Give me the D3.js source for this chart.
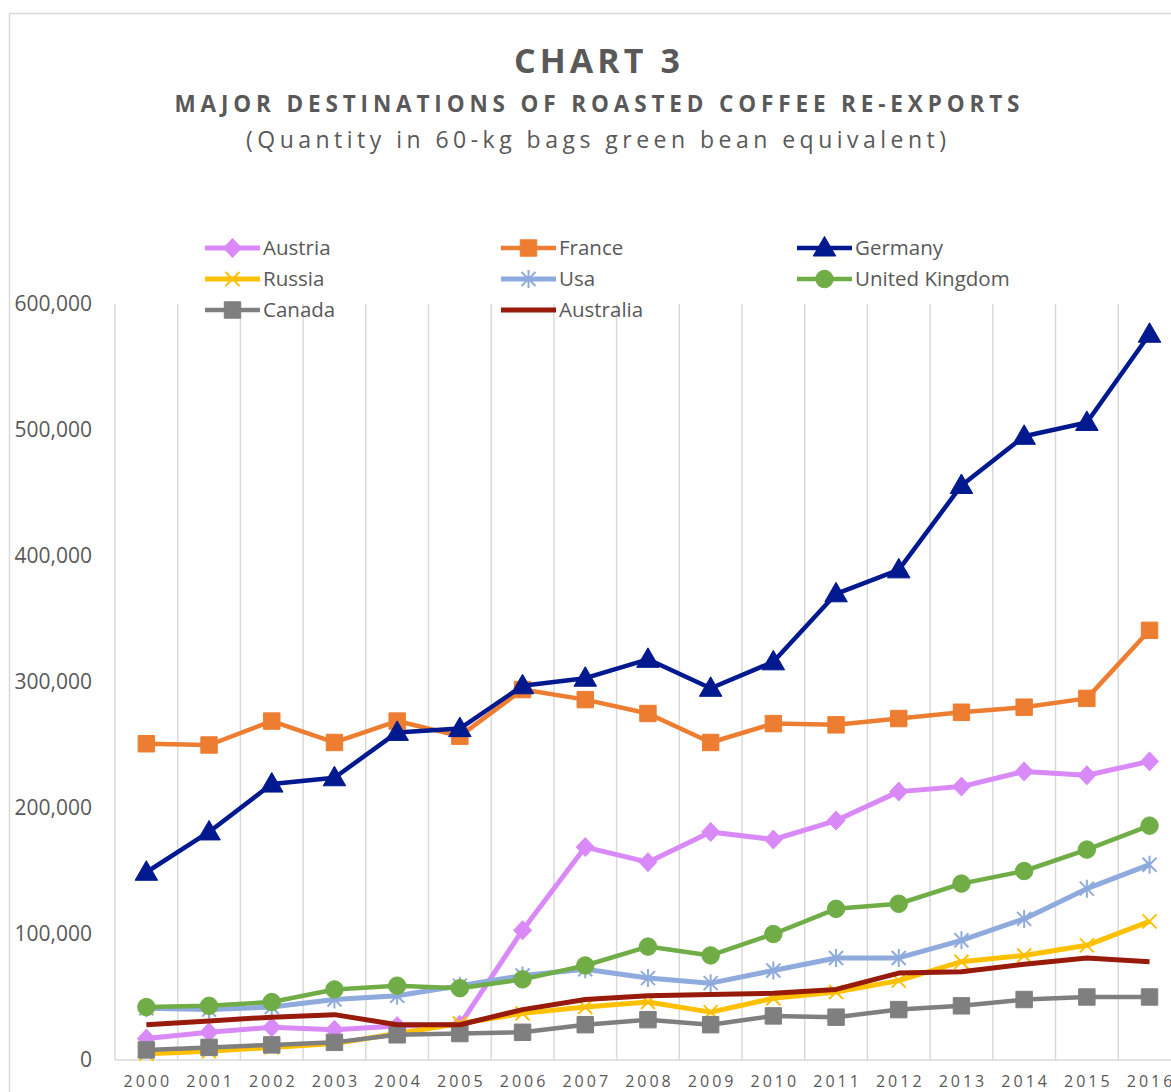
<!DOCTYPE html>
<html><head><meta charset="utf-8">
<script src="https://cdn.jsdelivr.net/npm/d3@7"></script>
<style>body{margin:0;background:#fff}svg{display:block}text{font-family:"Open Sans",sans-serif;fill:#595959}</style>
</head><body><svg id="c" width="1171" height="1092"></svg>
<script>
const years = ["2000","2001","2002","2003","2004","2005","2006","2007","2008","2009","2010","2011","2012","2013","2014","2015","2016"];
const yTicks = [0,100000,200000,300000,400000,500000,600000];
const austria   = [17000,22000,26000,24000,27000,28000,103000,169000,157000,181000,175000,190000,213000,217000,229000,226000,237000];
const france    = [251000,250000,269000,252000,269000,257000,294000,286000,275000,252000,267000,266000,271000,276000,280000,287000,341000];
const germany   = [149000,181000,219000,224000,260000,263000,297000,303000,318000,295000,316000,370000,389000,456000,495000,506000,576000];
const russia    = [5000,7000,10000,13000,21000,29000,37000,42000,46000,38000,49000,54000,63000,78000,83000,91000,110000];
const usa       = [41000,40000,42000,48000,51000,59000,67000,72000,65000,61000,71000,81000,81000,95000,112000,136000,155000];
const uk        = [42000,43000,46000,56000,59000,57000,64000,75000,90000,83000,100000,120000,124000,140000,150000,167000,186000];
const canada    = [8000,10000,12000,14000,20000,21000,22000,28000,32000,28000,35000,34000,40000,43000,48000,50000,50000];
const australia = [28000,31000,34000,36000,28000,28000,40000,48000,51000,52000,53000,56000,69000,70000,76000,81000,78000];

const series = [
  {name:"Austria", values:austria, color:"#D98AF8", marker:"diamond", w:5},
  {name:"France", values:france, color:"#ED7D31", marker:"square", w:4.5},
  {name:"Germany", values:germany, color:"#00198F", marker:"triangle", w:4.5},
  {name:"Russia", values:russia, color:"#FFC000", marker:"x", w:5},
  {name:"Usa", values:usa, color:"#8FAADC", marker:"star", w:5},
  {name:"United Kingdom", values:uk, color:"#70AD47", marker:"circle", w:4.5},
  {name:"Canada", values:canada, color:"#7F7F7F", marker:"square", w:4.5},
  {name:"Australia", values:australia, color:"#981A0A", marker:"none", w:5}
];

const svg = d3.select("#c");
svg.append("rect").attr("x",9.5).attr("y",13.5).attr("width",1300).attr("height",1300)
  .attr("fill","#fff").attr("stroke","#d9d9d9").attr("stroke-width",1.5);

const x = d3.scaleBand().domain(years).range([115, 115 + 17*62.7]).padding(0);
const y = d3.scaleLinear().domain([0,600000]).range([1060,304]);
const cx = d => x(d) + x.bandwidth()/2;

// titles
svg.append("text").attr("x",597).attr("y",73).attr("text-anchor","middle")
  .attr("textLength",166).attr("lengthAdjust","spacing")
  .style("font-size","34px").style("font-weight","bold").text("CHART 3");
svg.append("text").attr("x",597).attr("y",112).attr("text-anchor","middle")
  .attr("textLength",845).attr("lengthAdjust","spacing")
  .style("font-size","22.5px").style("font-weight","bold").text("MAJOR DESTINATIONS OF ROASTED COFFEE RE-EXPORTS");
svg.append("text").attr("x",596).attr("y",148).attr("text-anchor","middle")
  .attr("textLength",700).attr("lengthAdjust","spacing")
  .style("font-size","23px").text("(Quantity in 60-kg bags green bean equivalent)");

// vertical gridlines
const grid = d3.range(18).map(i => 115 + i*62.7);
svg.append("g").selectAll("line").data(grid).join("line")
  .attr("x1",d=>d).attr("x2",d=>d).attr("y1",304).attr("y2",1060)
  .attr("stroke","#d9d9d9").attr("stroke-width",1.5);
svg.append("line").attr("x1",115).attr("x2",1200).attr("y1",1060).attr("y2",1060)
  .attr("stroke","#d9d9d9").attr("stroke-width",1.5);

// y axis
const yAxis = d3.axisLeft(y).tickValues(yTicks).tickFormat(d3.format(",")).tickSize(0).tickPadding(0);
const gy = svg.append("g").attr("transform","translate(92,0)").call(yAxis);
gy.select(".domain").remove();
gy.selectAll("text").style("font-size","21px").style("fill","#595959").style("font-family","'Open Sans',sans-serif");

// x axis
const xAxis = d3.axisBottom(x).tickSize(0).tickPadding(0);
const gx = svg.append("g").attr("transform","translate(0,1087)").call(xAxis);
gx.select(".domain").remove();
gx.selectAll("text").attr("dy","0").style("font-size","16px").style("letter-spacing","3px")
  .style("fill","#595959").style("font-family","'Open Sans',sans-serif").attr("dx","1.5px");

function drawMarker(g, type, color, px, py){
  if(type==="none") return;
  if(type==="x"){
    g.append("path").attr("d",`M${px-7},${py-7}L${px+7},${py+7}M${px-7},${py+7}L${px+7},${py-7}`)
      .attr("stroke",color).attr("stroke-width",2).attr("fill","none");
    return;
  }
  if(type==="star"){
    g.append("path").attr("d",`M${px-7},${py-7}L${px+7},${py+7}M${px-7},${py+7}L${px+7},${py-7}M${px},${py-9}L${px},${py+9}`)
      .attr("stroke",color).attr("stroke-width",2).attr("fill","none");
    return;
  }
  if(type==="diamond"){
    g.append("path").attr("d",`M${px},${py-9.5}L${px+9},${py}L${px},${py+9.5}L${px-9},${py}Z`)
      .attr("fill",color).attr("stroke",color).attr("stroke-width",1);
    return;
  }
  const sym = {square:d3.symbolSquare, triangle:d3.symbolTriangle, circle:d3.symbolCircle}[type];
  const size = {square:270, triangle:220, circle:240}[type];
  g.append("path").attr("d",d3.symbol(sym,size)()).attr("transform",`translate(${px},${py + (type==="triangle"?1.5:0)})`)
    .attr("fill",color).attr("stroke",color).attr("stroke-width",1);
}

const line = d3.line().x((d,i)=>cx(years[i])).y(d=>y(d));
series.forEach(s=>{
  const g = svg.append("g");
  g.append("path").datum(s.values).attr("d",line).attr("fill","none")
    .attr("stroke",s.color).attr("stroke-width",s.w).attr("stroke-linejoin","round");
  s.values.forEach((v,i)=>drawMarker(g, s.marker, s.color, cx(years[i]), y(v)));
});

// legend
const colX = [205, 501, 797];
const rowY = [248, 279, 310];
series.forEach((s,i)=>{
  const lx = colX[i%3], ly = rowY[Math.floor(i/3)];
  const g = svg.append("g");
  g.append("line").attr("x1",lx).attr("x2",lx+55).attr("y1",ly).attr("y2",ly)
    .attr("stroke",s.color).attr("stroke-width",s.w);
  drawMarker(g, s.marker, s.color, lx+27.5, ly);
  g.append("text").attr("x",lx+58).attr("y",ly).attr("dy","0.35em")
    .style("font-size","20.5px").text(s.name);
});
</script></body></html>
